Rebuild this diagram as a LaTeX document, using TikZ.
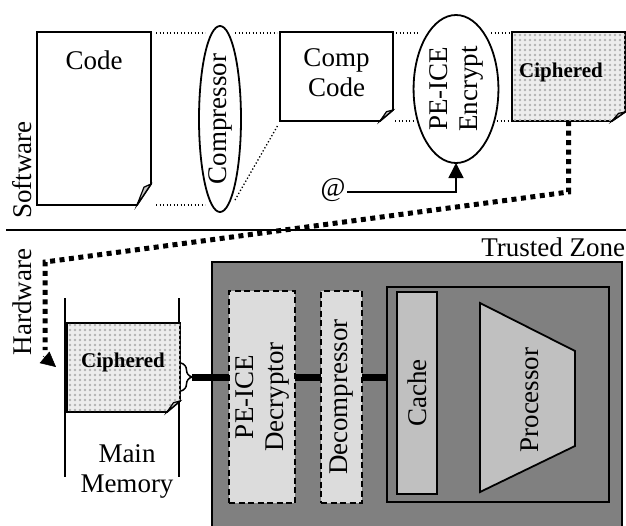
\documentclass[tikz,border=0pt]{standalone}
\usepackage{fontspec}
\setmainfont{Liberation Serif}
\usetikzlibrary{shapes.geometric,calc,arrows.meta,patterns.meta,decorations.pathreplacing}
\definecolor{tzgray}{HTML}{808080}
\definecolor{boxlight}{HTML}{DCDCDC}
\definecolor{partgray}{HTML}{C0C0C0}
\newcommand\rtext[1]{\rotatebox{90}{\begin{tabular}{@{}c@{}}#1\end{tabular}}}
\newcommand\docshape[4]{%
  \path[docline,#4] (#1.north west) -- (#1.north east) -- ($(#1.south east)+(0,-#3)$) -- ($(#1.south east)+(-#2,0)$) -- (#1.south west) -- cycle;
  \filldraw[line width=1.2, fill=gray!45] ($(#1.south east)+(-#2,0)$) -- ($(#1.south east)+(-0.5*#2,-0.85*#3)$) -- ($(#1.south east)+(0,-#3)$) -- cycle;
}
\tikzset{
  every node/.style={font=\fontsize{27}{30}\selectfont, inner sep=0pt, outer sep=0pt},
  docline/.style={draw=black, line width=1.8, line join=miter},
  docnode/.style={rectangle, draw=none, minimum width=#1},
  ciphfill/.style={fill=gray!14, postaction={pattern={Dots[distance=5pt,radius=1.3pt]}, pattern color=gray!60}},
  ellipsebox/.style={ellipse, draw, line width=1.8, fill=white},
  guide/.style={dash pattern=on 1.3 off 2.2, line width=1.3},
  bigdots/.style={line width=5, dash pattern=on 5 off 4.5},
  bus/.style={line width=7},
  dashbox/.style={rectangle, draw, dash pattern=on 6 off 3.5, line width=1.5, fill=boxlight},
  boldlabel/.style={font=\fontsize{21}{24}\selectfont\bfseries},
}
\begin{document}
\begin{tikzpicture}[x=1pt,y=-1pt]
\useasboundingbox (0,0) rectangle (626,525);

% ---------- Software part ----------
\node[docnode=114, minimum height=173] (code) at (94,118.5) {};
\docshape{code}{14}{21}{fill=white}
\node (codelbl) at (94,60) {Code};

\node[ellipsebox, minimum width=42, minimum height=186] (comp) at (220,119) {\rotatebox{90}{Compressor}};

\node[docnode=113, minimum height=89] (ccode) at (336.5,76.5) {};
\docshape{ccode}{13}{11}{fill=white}
\node (ccodelbl) at (336.5,75) {\begin{tabular}{@{}c@{}}Comp\\Code\end{tabular}};

\node[ellipsebox, minimum width=82, minimum height=148] (enc) at (456,89) {\rtext{PE-ICE\\Encrypt}};

\node[docnode=113, minimum height=89] (ciph) at (568.5,76.5) {};
\docshape{ciph}{13}{9}{ciphfill}
\node[boldlabel] (ciphlbl) at (561,72) {Ciphered};

% guide lines
\draw[guide] ($(code.north east)+(5,1)$) -- (205,33);
\draw[guide] ($(code.south east)+(5,0)$) -- (205,205);
\draw[guide] (235,33) -- ($(ccode.north west)+(-3,1)$);
\draw[guide] (235,200) -- ($(ccode.south west)+(-2,4)$);
\draw[guide] ($(ccode.north east)+(3,1)$) -- (418,33);
\draw[guide] ($(ccode.south east)+(2,0)$) -- (414,121);
\draw[guide] (491,33) -- ($(ciph.north west)+(-2,1)$);
\draw[guide] (497,121) -- ($(ciph.south west)+(-2,0)$);

% @ input
\node (at) at (333,190) {@};
\draw[line width=1.5, -{Triangle[length=15,width=15]}] ($(at.east)+(2,2)$) -| (enc.south);

\node (sw) at (22,170) {\rotatebox{90}{Software}};
\draw[line width=1.6] (6,230) coordinate (sepL) -- (626,230) coordinate (sepR);

% ---------- Hardware part ----------
\node (hw) at (22,302) {\rotatebox{90}{Hardware}};
\node[anchor=base east] (tzlbl) at (625,256) {Trusted Zone};

\node[rectangle, draw, line width=1.5, fill=tzgray, minimum width=410, minimum height=290, anchor=north west] (tz) at (212,262) {};

\node[dashbox, minimum width=66, minimum height=212] (decr) at (262,397) {\rtext{PE-ICE\\Decryptor}};
\node[dashbox, minimum width=41, minimum height=212] (decomp) at (341.5,397) {\rotatebox{90}{Decompressor}};

\node[rectangle, draw, line width=1.8, fill=tzgray, minimum width=222, minimum height=215] (inner) at (498,394.5) {};
\node[rectangle, draw, line width=1.8, fill=partgray, minimum width=40, minimum height=202] (cache) at (417,393) {\rotatebox{90}{Cache}};
\coordinate (p1) at (480,303);
\coordinate (p2) at (575,351);
\coordinate (p3) at (575,446);
\coordinate (p4) at (480,492);
\filldraw[line width=1.8, fill=partgray] (p1) -- (p2) -- (p3) -- (p4) -- cycle;
\node (proc) at (530,400) {\rotatebox{90}{Processor}};

% main memory
\draw[line width=1.3] (65,298) coordinate (mmL1) -- (65,477) coordinate (mmL2);
\draw[line width=1.3] (179,298) coordinate (mmR1) -- (179,477) coordinate (mmR2);
\node[docnode=113, minimum height=89] (ciph2) at (123.5,367.5) {};
\docshape{ciph2}{13}{11}{ciphfill}
\node[boldlabel] (ciph2lbl) at (123,362) {Ciphered};
\node (mmlbl) at (127,471) {\begin{tabular}{@{}c@{}}Main\\Memory\end{tabular}};

% brace and bus
\draw[line width=1.5, decorate, decoration={brace, amplitude=11pt}] (181,363) -- (181,391);
\coordinate (bt) at (192,377);
\draw[bus] (bt) -- (bt -| decr.west);
\draw[bus] (decr.east |- bt) -- (decomp.west |- bt);
\draw[bus] (decomp.east |- bt) -- (inner.west |- bt);

% ciphered transfer
\coordinate (d1) at (568.5,192);
\coordinate (d2) at (45,262);
\coordinate (d3) at (45,350);
\coordinate (d4) at (43,356);
\coordinate (d5) at (56,367);
\draw[bigdots] (ciph.south) -- (d1) -- (d2) -- (d3);
\draw[line width=0.5, -{Triangle[length=15,width=15]}] (d4) -- (d5);
\end{tikzpicture}
\end{document}
